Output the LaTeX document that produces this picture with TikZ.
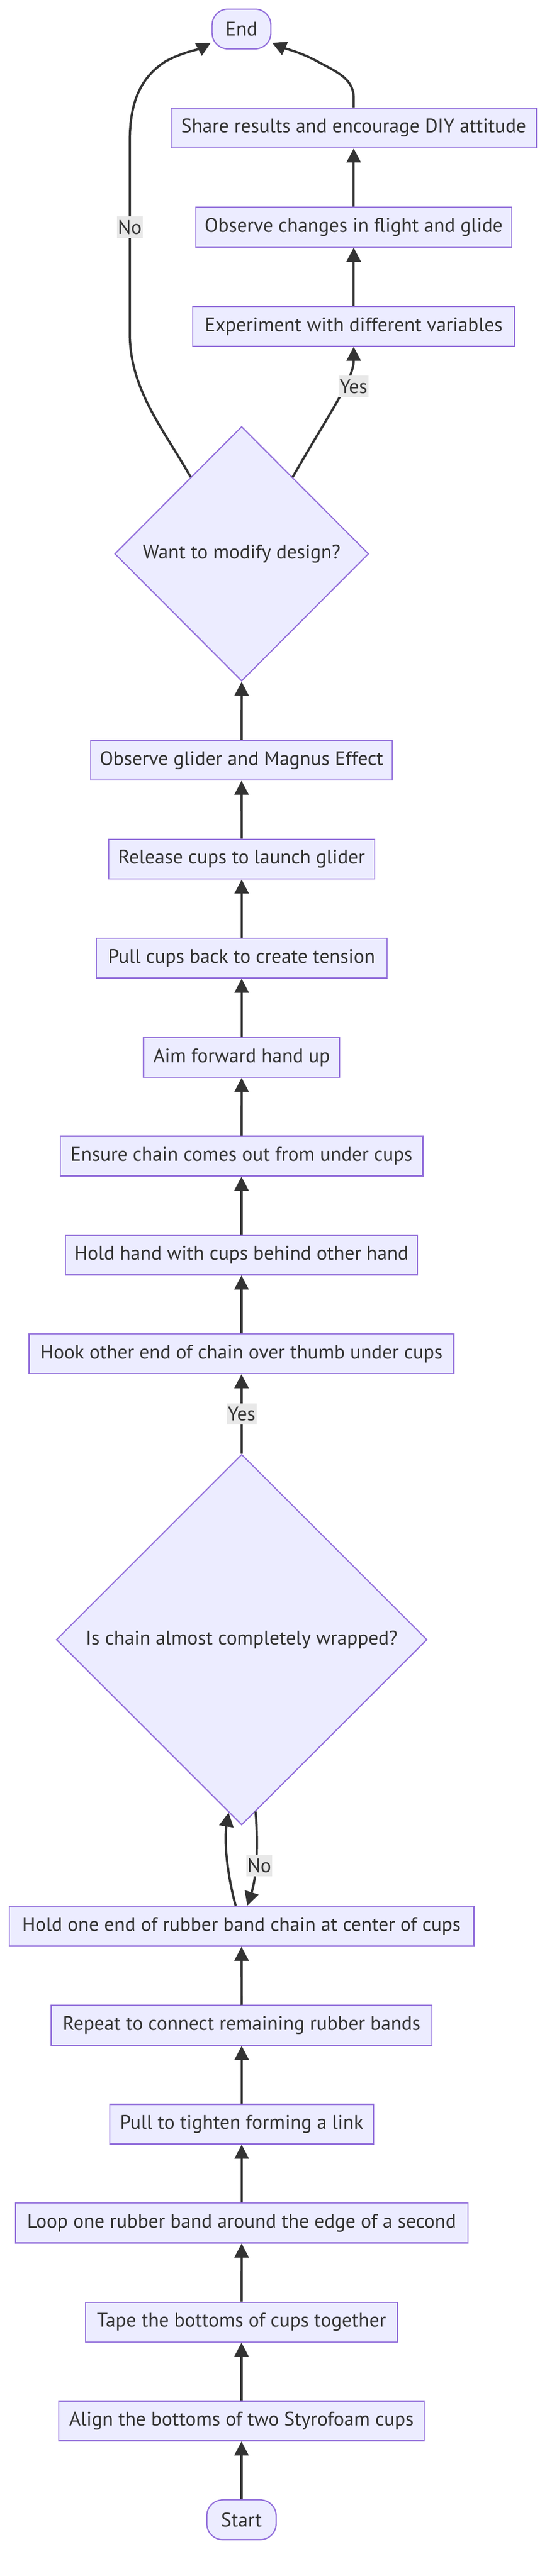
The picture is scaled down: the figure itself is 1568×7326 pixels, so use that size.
\documentclass[tikz,border=0pt]{standalone}
\usepackage{fontspec}
\setmainfont{PT Sans}
\usetikzlibrary{shapes.geometric,arrows.meta,calc}
\definecolor{nodefill}{HTML}{ECECFF}
\definecolor{nodeline}{HTML}{9370DB}
\definecolor{edgecol}{HTML}{333333}
\definecolor{labelbg}{HTML}{E8E8E8}
\newcommand{\nfont}{\fontsize{56}{67}\selectfont}
\tikzset{
  box/.style={draw=nodeline, fill=nodefill, line width=3.5pt, minimum height=113pt,
    inner sep=0pt, text=edgecol, font=\nfont},
  term/.style={box, rounded corners=45pt},
  decision/.style={diamond, aspect=1, draw=nodeline, fill=nodefill, line width=3.5pt,
    inner sep=0pt, text=edgecol, font=\nfont},
  edge/.style={draw=edgecol, line width=6.5pt, -{Triangle[length=40pt,width=40pt]}},
  elabel/.style={fill=labelbg, text=edgecol, font=\nfont, inner xsep=3pt, inner ysep=0pt,
    minimum height=61pt},
}
\begin{document}
\begin{tikzpicture}[x=1pt,y=-1pt]
\useasboundingbox (0,0) rectangle (1568,7326);
\fill[white] (0,0) rectangle (1568,7326);

% nodes
\node[term, minimum width=167pt] (End) at (686.5,82.5) {End};
\node[box, minimum width=1039pt] (Share) at (1005.5,364) {Share results and encourage DIY attitude};
\node[box, minimum width=898pt] (ObsC) at (1005.5,646) {Observe changes in flight and glide};
\node[box, minimum width=915pt] (Exp) at (1005.5,928) {Experiment with different variables};
\node[decision, minimum width=722pt, minimum height=724pt] (D1) at (687,1575) {Want to modify design?};
\node[box, minimum width=857pt] (ObsG) at (686.5,2162) {Observe glider and Magnus Effect};
\node[box, minimum width=756pt] (Rel) at (687,2443) {Release cups to launch glider};
\node[box, minimum width=826pt] (PullC) at (687,2725) {Pull cups back to create tension};
\node[box, minimum width=558pt] (Aim) at (687,3007) {Aim forward hand up};
\node[box, minimum width=1031pt] (Ens) at (686.5,3288) {Ensure chain comes out from under cups};
\node[box, minimum width=1001pt] (HoldH) at (686.5,3569) {Hold hand with cups behind other hand};
\node[box, minimum width=1207pt] (Hook) at (686.5,3850) {Hook other end of chain over thumb under cups};
\node[decision, minimum width=1054pt, minimum height=1054pt] (D2) at (687,4663) {Is chain almost completely wrapped?};
\node[box, minimum width=1321pt] (HoldE) at (686.5,5478) {Hold one end of rubber band chain at center of cups};
\node[box, minimum width=1082pt] (Rep) at (687,5760) {Repeat to connect remaining rubber bands};
\node[box, minimum width=750pt] (PullT) at (687,6041) {Pull to tighten forming a link};
\node[box, minimum width=1286pt] (Loop) at (687,6322) {Loop one rubber band around the edge of a second};
\node[box, minimum width=887pt] (Tape) at (686.5,6604) {Tape the bottoms of cups together};
\node[box, minimum width=1039pt] (Align) at (686.5,6885) {Align the bottoms of two Styrofoam cups};
\node[term, minimum width=197pt] (Start) at (686.5,7166) {Start};

% straight edges
\draw[edge] (Start) -- (Align);
\draw[edge] (Align) -- (Tape);
\draw[edge] (Tape) -- (Loop);
\draw[edge] (Loop) -- (PullT);
\draw[edge] (PullT) -- (Rep);
\draw[edge] (Rep) -- (HoldE);
\draw[edge] (D2.north) -- node[elabel] (LYes2) {Yes} (Hook.south);
\draw[edge] (Hook) -- (HoldH);
\draw[edge] (HoldH) -- (Ens);
\draw[edge] (Ens) -- (Aim);
\draw[edge] (Aim) -- (PullC);
\draw[edge] (PullC) -- (Rel);
\draw[edge] (Rel) -- (ObsG);
\draw[edge] (ObsG.north) -- (D1.south);
\draw[edge] (Exp) -- (ObsC);
\draw[edge] (ObsC) -- (Share);

% loop between HoldE and D2
\draw[edge] ([xshift=-16.5pt]HoldE.north) .. controls (648,5340) and (636,5240) .. ($(D2.south)!0.07!(D2.west)$);
\draw[edge] ($(D2.south)!0.075!(D2.east)$) .. controls (733,5230) and (732,5330) .. ([xshift=16.5pt]HoldE.north);
\node[elabel] (LNo2) at (737,5306) {No};

% D1 Yes branch
\draw[edge] ($(D1.north)!0.4!(D1.east)$) .. controls (930,1185) and (1005.5,1080) .. (Exp.south);
\node[elabel] (LYes1) at (1005,1099) {Yes};

% D1 No branch to End
\draw[edge] ($(D1.north)!0.4!(D1.west)$) .. controls (470,1228) and (369,1110) .. (369,950)
  -- (369,400) .. controls (369,290) and (400,220) .. (470,175)
  .. controls (515,150) and (565,140) .. ([shift={(-2pt,19pt)}]End.south west);
\node[elabel] (LNo1) at (369,646) {No};

% Share to End
\draw[edge] (Share.north) -- (1005.5,280) .. controls (1005.5,230) and (970,210) .. (912,180)
  .. controls (860,150) and (808,137) .. ([shift={(2pt,19pt)}]End.south east);
\end{tikzpicture}
\end{document}
